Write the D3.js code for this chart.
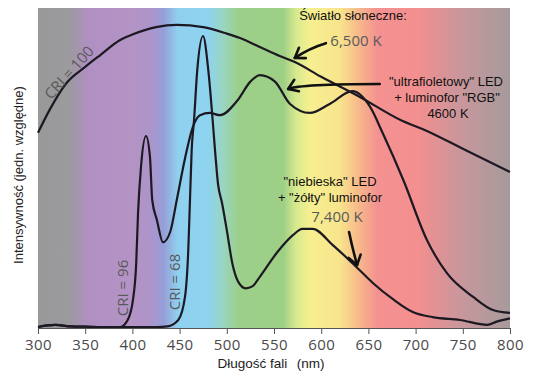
<!DOCTYPE html>
<html><head><meta charset="utf-8">
<script src="https://cdn.jsdelivr.net/npm/d3@7"></script>
<style>body{margin:0;background:#fff}svg{display:block}</style>
</head><body>
<svg id="c" width="533" height="375"></svg>
<script>
// ---------- data ----------
const xTicks = [300,350,400,450,500,550,600,650,700,750,800];

// Sunlight (CRI = 100)
const sunWl  = [300,312,330,350,366,387,400,425,447,475,500,514,535,556,572,600,641,684,712,750,800];
const sunVal = [0.61,0.68,0.765,0.816,0.853,0.90,0.917,0.94,0.947,0.94,0.92,0.906,0.878,0.85,0.831,0.785,0.722,0.65,0.616,0.56,0.4875];

// "ultrafioletowy" LED + RGB phosphor (CRI = 96)
const uvWl  = [300,310,318,325,335,350,370,387,395,400.6,404,406,409,414.4,418.6,421,426,432.4,440,447,455.7,464,471.6,482,493,511,525,535,551,567,588,609,633,652,665,687,712,733,761,782,800];
const uvVal = [0.003,0.008,0.01,0.008,0.005,0.004,0.003,0.003,0.025,0.088,0.2,0.36,0.5,0.60,0.535,0.40,0.337,0.268,0.30,0.40,0.53,0.628,0.665,0.672,0.665,0.71,0.77,0.79,0.77,0.70,0.672,0.70,0.74,0.69,0.61,0.4625,0.275,0.172,0.097,0.056,0.047];

// "niebieska" LED + yellow phosphor (CRI = 68)
const blueWl  = [300,310,318,325,335,350,370,387,400,426,437,448.6,455.7,459.2,461,462.8,465.3,468.7,474.8,480.4,485,487.5,490.7,495,500,506,512,520,527,535,553,570,580,591,612,634,655,676,697,718,747,776,786,800];
const blueVal = [0.003,0.008,0.01,0.008,0.005,0.004,0.003,0.003,0.003,0.003,0.005,0.025,0.097,0.244,0.40,0.556,0.65,0.806,0.9125,0.806,0.65,0.556,0.45,0.39,0.306,0.2,0.145,0.124,0.13,0.16,0.235,0.29,0.31,0.31,0.26,0.20,0.14,0.09,0.05,0.034,0.025,0.01,0.02,0.03];

// background spectrum
const bgWl  = [300,333,353,400,418,433,448,480,495,513,560,573,588,620,640,660,702,750,800];
const bgCol = ['#999999','#9b9a9e','#b08fc2','#b493c5','#ad94c9','#969ed8','#8fd0ef','#8ed4f0','#99d5c4','#9ccf8a','#9dcf85','#d6e98e','#f6ef90','#f8e48c','#f7b88b','#f49191','#f38f8f','#c7979c','#a69a9c'];

// ---------- layout ----------
const svg = d3.select('#c');
const x = d3.scaleLinear().domain([300,800]).range([38,510]);
const y = d3.scaleLinear().domain([0,1]).range([328,8]);

const defs = svg.append('defs');
const grad = defs.append('linearGradient').attr('id','spec')
  .attr('gradientUnits','userSpaceOnUse')
  .attr('x1',x(300)).attr('x2',x(800)).attr('y1',0).attr('y2',0);
bgWl.forEach((w,i)=>grad.append('stop').attr('offset',(w-300)/500).attr('stop-color',bgCol[i]));

svg.append('rect').attr('x',x(300)).attr('y',y(1)).attr('width',x(800)-x(300)).attr('height',y(0)-y(1)).attr('fill','url(#spec)');

// curves
const line = d3.line().x(d=>x(d[0])).y(d=>y(d[1])).curve(d3.curveMonotoneX);
const series = [d3.zip(sunWl,sunVal), d3.zip(uvWl,uvVal), d3.zip(blueWl,blueVal)];
svg.append('g').selectAll('path').data(series).join('path')
  .attr('d',line).attr('fill','none').attr('stroke','#1d1923').attr('stroke-width',2.2)
  .attr('stroke-linejoin','round');

// axis
const ax = svg.append('g').attr('transform',`translate(0,${y(0)})`)
  .call(d3.axisBottom(x).tickValues(xTicks).tickSize(6).tickPadding(5).tickSizeOuter(0));
ax.select('.domain').attr('stroke','#555');
ax.selectAll('.tick line').attr('stroke','#555');
ax.selectAll('.tick text').attr('fill','#4a4a4a').attr('font-family','Open Sans').attr('font-size',15).attr('letter-spacing','0.4px');

svg.append('text').attr('x',271).attr('y',368).attr('text-anchor','middle')
  .attr('font-family','Liberation Sans').attr('font-size',13.5).attr('fill','#222')
  .text('Długość fali\u2002\u2009(nm)');
svg.append('text').attr('transform','translate(23,175) rotate(-90)').attr('text-anchor','middle')
  .attr('font-family','Liberation Sans').attr('font-size',13).attr('fill','#222')
  .text('Intensywność (jedn. względne)');

// CRI labels
const gray = '#5a5a5a';
function lab(t, tx, ty, rot){
  svg.append('text').attr('transform',`translate(${tx},${ty}) rotate(${rot})`)
    .attr('text-anchor','middle').attr('font-family','Open Sans').attr('font-size',15)
    .attr('fill',gray).text(t);
}
lab('CRI = 100', 73, 76, -48);
lab('CRI = 96', 127.5, 288, -90);
lab('CRI = 68', 180, 282, -90);

// annotations
function txt(t, tx, ty, col, fs, fam){
  svg.append('text').attr('x',tx).attr('y',ty).attr('text-anchor','middle')
    .attr('font-family',fam).attr('font-size',fs).attr('fill',col).text(t);
}
txt('Światło słoneczne:', 353, 20, '#111', 13, 'Liberation Sans');
txt('6,500 K', 356, 46, gray, 15, 'Open Sans');
txt('"ultrafioletowy" LED', 446, 86, '#111', 13, 'Liberation Sans');
txt('+ luminofor "RGB"', 447, 102, '#111', 13, 'Liberation Sans');
txt('4600 K', 448, 118, '#111', 13, 'Liberation Sans');
txt('"niebieska" LED', 330, 186, '#111', 13, 'Liberation Sans');
txt('+ "żółty" luminofor', 330, 202, '#111', 13, 'Liberation Sans');
txt('7,400 K', 337, 222, gray, 15, 'Open Sans');

// arrows: [fromWl, fromVal, ctrlWl, ctrlVal, toWl, toVal]
const arrows = [
  [605,0.89, 588,0.875, 572,0.844],
  [662,0.7625, 578,0.7625, 565,0.747],
  [629.5,0.30, 633,0.25, 638,0.197]
];
arrows.forEach(a=>{
  const p0=[x(a[0]),y(a[1])], c=[x(a[2]),y(a[3])], p1=[x(a[4]),y(a[5])];
  svg.append('path').attr('d',`M${p0}Q${c} ${p1}`).attr('fill','none')
    .attr('stroke','#111').attr('stroke-width',2.6).attr('stroke-linecap','round');
  const ang = Math.atan2(c[1]-p1[1], c[0]-p1[0]);
  const L=11, sp=0.6;
  const b1=[p1[0]+L*Math.cos(ang+sp), p1[1]+L*Math.sin(ang+sp)];
  const b2=[p1[0]+L*Math.cos(ang-sp), p1[1]+L*Math.sin(ang-sp)];
  svg.append('path').attr('d',`M${b1}L${p1}L${b2}`).attr('fill','none')
    .attr('stroke','#111').attr('stroke-width',2.6).attr('stroke-linecap','round').attr('stroke-linejoin','round');
});
</script>
</body></html>
